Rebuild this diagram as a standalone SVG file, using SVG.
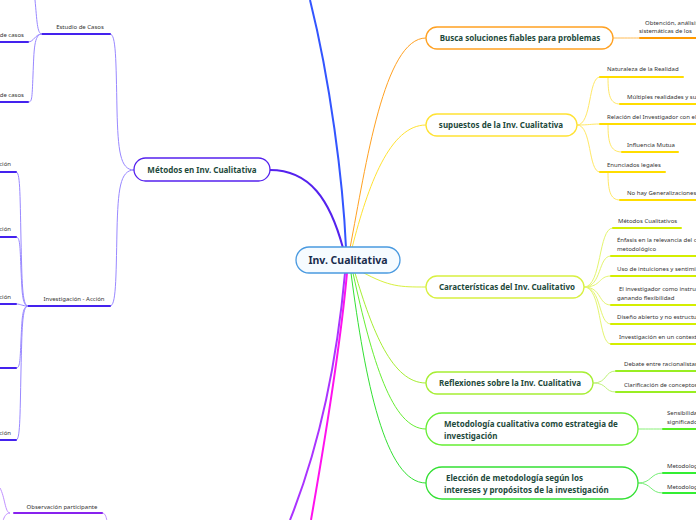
<svg xmlns="http://www.w3.org/2000/svg" width="696" height="520" viewBox="0 0 696 520">
<style>
.t{font-family:"Noto Sans","Open Sans",sans-serif;font-size:6px;fill:#333}
.n{font-family:"Noto Sans","Open Sans",sans-serif;font-size:8px;font-weight:bold;fill:#1e4a3c}
.c{font-family:"Noto Sans","Open Sans",sans-serif;font-size:10.5px;font-weight:bold;fill:#1a2d4d}
.e{text-anchor:end}.m{text-anchor:middle}
.box{fill:#fff;stroke-width:1.3}
.k{fill:none;stroke-width:1}
.u{fill:none;stroke-width:2;stroke-linecap:round}
.main{fill:none;stroke-width:2}
</style>
<rect width="696" height="520" fill="#fff"/>
<g id="connectors">
<!-- trunks from center -->
<path class="main" stroke="#3355ff" d="M346,248 C343,180 330,80 310,0"/>
<path class="main" stroke="#5522ee" d="M343,248 C330,200 310,170 270,170"/>
<path class="k" stroke="#ffa122" stroke-width="1.4" d="M350,248 C366,165 384,38 426,38"/>
<path class="k" stroke="#ffe233" stroke-width="1.4" d="M352,248 C368,185 390,125 426,125"/>
<path class="k" stroke="#d8f040" stroke-width="1.4" d="M362,272 C390,287 400,287 426,287"/>
<path class="k" stroke="#a6ee33" stroke-width="1.4" d="M355,273 C372,330 392,383 426,383"/>
<path class="k" stroke="#66ee33" stroke-width="1.4" d="M353,273 C372,360 392,429 426,429"/>
<path class="k" stroke="#33e033" stroke-width="1.4" d="M351,273 C365,380 385,483 426,483"/>
<path class="main" stroke="#ff11ee" d="M347,273 C340,350 325,440 311,520"/>
<path class="main" stroke="#aa33ff" d="M345,273 C338,350 322,440 290,520"/>
<!-- Busca -->
<path class="k" stroke="#ffbb55" d="M613,38 C625,38 630,38 640,38"/>
<path class="u" stroke="#ff9900" d="M640,38 L700,38"/>
<!-- supuestos -->
<path class="k" stroke="#ffe866" d="M577,125 C592,125 588,77 600,77"/>
<path class="k" stroke="#ffe866" d="M577,125 C590,125 590,124 600,124"/>
<path class="k" stroke="#ffe866" d="M577,125 C592,125 588,172 600,172"/>
<path class="k" stroke="#ffe866" d="M608,77 C608,95 610,104 620,104"/>
<path class="k" stroke="#ffe866" d="M608,124 C608,142 610,152 622,152"/>
<path class="k" stroke="#ffe866" d="M608,172 C608,190 610,200 620,200"/>
<path class="u" stroke="#ffdd00" d="M600,77 L683,77"/>
<path class="u" stroke="#ffdd00" d="M620,104 L700,104"/>
<path class="u" stroke="#ffdd00" d="M600,124 L700,124"/>
<path class="u" stroke="#ffdd00" d="M622,152 L678,152"/>
<path class="u" stroke="#ffdd00" d="M600,172 L665,172"/>
<path class="u" stroke="#ffdd00" d="M620,200 L700,200"/>
<!-- Caracteristicas -->
<path class="k" stroke="#e4f570" d="M584,287 C602,287 598,228 613,228"/>
<path class="k" stroke="#e4f570" d="M584,287 C602,287 598,256 611,256"/>
<path class="k" stroke="#e4f570" d="M584,287 C602,287 598,276 611,276"/>
<path class="k" stroke="#e4f570" d="M584,287 C602,287 598,305 611,305"/>
<path class="k" stroke="#e4f570" d="M584,287 C602,287 598,324 611,324"/>
<path class="k" stroke="#e4f570" d="M584,287 C602,287 598,344 611,344"/>
<path class="u" stroke="#d4ee00" d="M613,228 L681,228"/>
<path class="u" stroke="#d4ee00" d="M611,256 L700,256"/>
<path class="u" stroke="#d4ee00" d="M611,276 L700,276"/>
<path class="u" stroke="#d4ee00" d="M611,305 L700,305"/>
<path class="u" stroke="#d4ee00" d="M611,324 L700,324"/>
<path class="u" stroke="#d4ee00" d="M611,344 L700,344"/>
<!-- Reflexiones -->
<path class="k" stroke="#bff27a" d="M593,383 C608,383 604,371 616,371"/>
<path class="k" stroke="#bff27a" d="M593,383 C608,383 604,392 616,392"/>
<path class="u" stroke="#99ee22" d="M616,371 L700,371"/>
<path class="u" stroke="#99ee22" d="M616,392 L700,392"/>
<!-- Metodologia -->
<path class="k" stroke="#88f077" d="M638,429 C650,429 652,429 663,429"/>
<path class="u" stroke="#55ee22" d="M663,429 L700,429"/>
<!-- Eleccion -->
<path class="k" stroke="#77ee77" d="M638,483 C652,483 650,473 663,473"/>
<path class="k" stroke="#77ee77" d="M638,483 C652,483 650,493 663,493"/>
<path class="u" stroke="#33ee33" d="M663,473 L700,473"/>
<path class="u" stroke="#33ee33" d="M663,493 L700,493"/>
<!-- left: Metodos -->
<path class="k" stroke="#9988ff" d="M134,170 C120,170 118,150 117,110 C116,60 116,34 110,34"/>
<path class="k" stroke="#9988ff" d="M134,170 C120,170 118,190 117,230 C116,280 116,306 110,306"/>
<path class="u" stroke="#4422ee" d="M42,34 L110,34"/>
<path class="u" stroke="#4422ee" d="M28,306 L110,306"/>
<path class="k" stroke="#9988ff" d="M42,34 C37,34 37,20 35,0"/>
<path class="k" stroke="#9988ff" d="M42,34 C35,34 34,42 28,42"/>
<path class="k" stroke="#9988ff" d="M42,34 C34,34 34,50 33,75 C32,100 32,102 28,102"/>
<path class="u" stroke="#4422ee" d="M-4,42 L28,42"/>
<path class="u" stroke="#4422ee" d="M-4,102 L28,102"/>
<path class="k" stroke="#9988ff" d="M28,306 C22,306 22,280 21,240 C20,190 20,172 16,172"/>
<path class="k" stroke="#9988ff" d="M28,306 C22,306 22,290 21,270 C20,245 20,237 16,237"/>
<path class="k" stroke="#9988ff" d="M28,306 C22,306 21,304 16,304"/>
<path class="k" stroke="#9988ff" d="M28,306 C22,306 22,320 21,340 C20,362 20,368 16,368"/>
<path class="k" stroke="#9988ff" d="M28,306 C22,306 22,330 21,370 C20,420 20,440 16,440"/>
<path class="u" stroke="#4422ee" d="M-4,172 L16,172"/>
<path class="u" stroke="#4422ee" d="M-4,237 L16,237"/>
<path class="u" stroke="#4422ee" d="M-4,304 L16,304"/>
<path class="u" stroke="#4422ee" d="M-4,368 L16,368"/>
<path class="u" stroke="#4422ee" d="M-4,440 L16,440"/>
<!-- Observacion -->
<path class="k" stroke="#c090ff" d="M10,513 C5,513 5,497 0,488"/>
<path class="k" stroke="#c090ff" d="M10,513 C6,513 4,517 3,521"/>
<path class="k" stroke="#c090ff" d="M102,513 C105,513 106,516 107,521"/>
<path class="u" stroke="#8822ee" d="M14,513 L102,513"/>
</g>
<g id="center">
<rect x="296" y="247" width="104" height="26" rx="13" fill="#f6fbff" stroke="#4a9ae0" stroke-width="1.3"/>
<text class="c m" x="348" y="264">Inv. Cualitativa</text>
</g>
<g id="busca">
<rect class="box" x="426" y="27" width="187" height="22" rx="11" stroke="#ffa122"/>
<text class="n m" x="520" y="41">Busca soluciones fiables para problemas</text>
<text class="t" x="645" y="25">Obtención, análisis</text>
<text class="t" x="639" y="33">sistemáticas de los</text>
</g>
<g id="supuestos">
<rect class="box" x="426" y="114" width="151" height="22" rx="11" stroke="#ffe233"/>
<text class="n m" x="501" y="128">supuestos de la Inv. Cualitativa</text>
<text class="t" x="607" y="71">Naturaleza de la Realidad</text>
<text class="t" x="627" y="99">Múltiples realidades y su</text>
<text class="t" x="607" y="119">Relación del Investigador con el</text>
<text class="t" x="627" y="147">Influencia Mutua</text>
<text class="t" x="607" y="167">Enunciados legales</text>
<text class="t" x="627" y="195">No hay Generalizaciones</text>
</g>
<g id="caracteristicas">
<rect class="box" x="426" y="276" width="158" height="22" rx="11" stroke="#d8f040"/>
<text class="n m" x="507" y="290">Características del Inv. Cualitativo</text>
<text class="t" x="618" y="223">Métodos Cualitativos</text>
<text class="t" x="617" y="242">Énfasis en la relevancia del c</text>
<text class="t" x="617" y="251">metodológico</text>
<text class="t" x="617" y="271">Uso de intuiciones y sentimi</text>
<text class="t" x="619" y="291">El investigador como instru</text>
<text class="t" x="617" y="300">ganando flexibilidad</text>
<text class="t" x="617" y="319">Diseño abierto y no estructu</text>
<text class="t" x="619" y="339">Investigación en un context</text>
</g>
<g id="reflexiones">
<rect class="box" x="426" y="372" width="167" height="22" rx="11" stroke="#a6ee33"/>
<text class="n m" x="510" y="386">Reflexiones sobre la Inv. Cualitativa</text>
<text class="t" x="624" y="366">Debate entre racionalistas</text>
<text class="t" x="624" y="387">Clarificación de conceptos</text>
</g>
<g id="metodologia">
<rect class="box" x="426" y="413" width="212" height="32" rx="16" stroke="#66ee33"/>
<text class="n" x="444" y="427">Metodología cualitativa como estrategia de</text>
<text class="n" x="444" y="439">investigación</text>
<text class="t" x="667" y="415">Sensibilidad</text>
<text class="t" x="667" y="424">significado</text>
</g>
<g id="eleccion">
<rect class="box" x="426" y="467" width="212" height="32" rx="16" stroke="#33e033"/>
<text class="n" x="446" y="481">Elección de metodología según los</text>
<text class="n" x="444" y="493">intereses y propósitos de la investigación</text>
<text class="t" x="667" y="468">Metodolog</text>
<text class="t" x="667" y="489">Metodolog</text>
</g>
<g id="metodos">
<rect class="box" x="134" y="158" width="136" height="23" rx="11.5" stroke="#5522ee"/>
<text class="n m" x="202" y="173">Métodos en Inv. Cualitativa</text>
</g>
<g id="estudio">
<text class="t m" x="80" y="29">Estudio de Casos</text>
<text class="t e" x="24" y="37">de casos</text>
<text class="t e" x="24" y="97">de casos</text>
</g>
<g id="investigacion">
<text class="t m" x="74" y="301">Investigación - Acción</text>
<text class="t e" x="11" y="166">ción</text>
<text class="t e" x="11" y="231">ción</text>
<text class="t e" x="11" y="299">ción</text>
<text class="t e" x="11" y="435">ción</text>
</g>
<g id="observacion">
<text class="t m" x="62" y="509">Observación participante</text>
</g>
</svg>
